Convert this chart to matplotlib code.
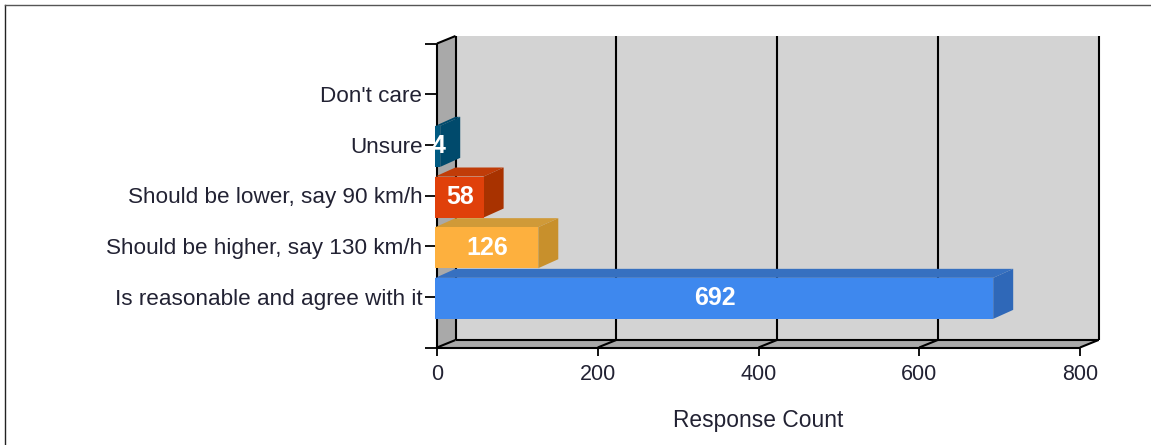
import matplotlib
matplotlib.use('Agg')
import matplotlib.pyplot as plt
from matplotlib.lines import Line2D
from matplotlib.patches import Polygon

categories = ['Is reasonable and agree with it', 'Should be higher, say 130 km/h',
              'Should be lower, say 90 km/h', 'Unsure', "Don't care"]
values = [692, 126, 58, 4, 0]
x_ticks = [0, 200, 400, 600, 800]

front_colors = ['#3e88ee', '#fdb03e', '#e0400a', '#005a82', '#3e88ee']
side_colors = ['#2f68b8', '#c8902c', '#a83200', '#004a6c', '#2f68b8']
top_colors = ['#3670c0', '#d09a38', '#c03c08', '#004a6c', '#3670c0']

W, H = 1151, 445
plt.rcParams['font.family'] = ['Liberation Sans', 'DejaVu Sans']

fig = plt.figure(figsize=(W / 100, H / 100), dpi=100)
# plot box in pixels: x 0..800 -> 437..1080, y -1..5 -> 347..43
ax = fig.add_axes([437 / W, 1 - 347.5 / H, 643 / W, 304 / H])
ax.set_xlim(0, 800)
ax.set_ylim(-1, 5)
for s in ax.spines.values():
    s.set_visible(False)
ax.patch.set_visible(False)

# depth of the fake 3d box, in data units
dx = 18.5 * 800 / 643
dy = 7.5 * 6 / 304
bar_h = 0.81
bar_off = -0.03
bar_dx = 20 * 800 / 643
bar_dy = 9 * 6 / 304
x0, x1, y0, y1 = 0, 800, -1, 5

def poly(pts, color, z, edge='none', lw=0):
    ax.add_patch(Polygon(pts, closed=True, facecolor=color, edgecolor=edge,
                         linewidth=lw, clip_on=False, zorder=z))

def line(xs, ys, z=2, lw=1.5, color='black'):
    ax.add_line(Line2D(xs, ys, color=color, linewidth=lw, clip_on=False, zorder=z,
                       solid_capstyle='butt'))

# walls
poly([(x0 + dx, y0 + dy), (x1 + dx, y0 + dy), (x1 + dx, y1 + dy), (x0 + dx, y1 + dy)], '#d3d3d3', 1)
poly([(x0, y0), (x0 + dx, y0 + dy), (x0 + dx, y1 + dy), (x0, y1)], '#a9a9a9', 1)
poly([(x0, y0), (x1, y0), (x1 + dx, y0 + dy), (x0 + dx, y0 + dy)], '#a9a9a9', 1)

# grid lines on the back wall and floor
for t in x_ticks:
    line([t + dx, t + dx], [y0 + dy, y1 + dy])
    line([t, t + dx], [y0, y0 + dy])
line([x0 + dx, x1 + dx], [y0 + dy, y0 + dy])
line([x0, x1], [y0, y0])
line([x0, x0], [y0, y1])
line([x0, x0 + dx], [y1, y1 + dy])

# bars
for i, (v, c) in enumerate(zip(values, categories)):
    if v == 0:
        continue
    lo, hi = i - bar_h / 2 + bar_off, i + bar_h / 2 + bar_off
    poly([(-2, hi), (v, hi), (v + bar_dx, hi + bar_dy), (bar_dx - 2, hi + bar_dy)], top_colors[i], 3)
    poly([(v, lo), (v + bar_dx, lo + bar_dy), (v + bar_dx, hi + bar_dy), (v, hi)], side_colors[i], 3)
    poly([(-2, lo), (v, lo), (v, hi), (-2, hi)], front_colors[i], 4)
    ax.text(v / 2, i + bar_off, str(v), color='white', fontsize=18, fontweight='bold',
            ha='center', va='center', zorder=5, clip_on=False)

ax.set_xticks(x_ticks)
ax.set_yticks([-1, 0, 1, 2, 3, 4, 5])
ax.set_yticklabels([''] + categories + [''])
ax.tick_params(axis='x', length=5.5, width=1.3, pad=6.5, labelsize=15.5, labelcolor='#222233')
ax.tick_params(axis='y', length=9, width=1.3, pad=1.5, labelsize=16.2, labelcolor='#222233')
ax.set_xlabel('Response Count', fontsize=16.4, color='#222233', labelpad=17.5)

# outer frame, open on the right
for xs, ys, col in [([4.5, 4.5], [5, 445], '#222222'), ([4.5, 1151], [4.5, 4.5], '#555555')]:
    fig.add_artist(Line2D([a / W for a in xs], [1 - b / H for b in ys], color=col, linewidth=1))

fig.savefig('out.png', dpi=100)
